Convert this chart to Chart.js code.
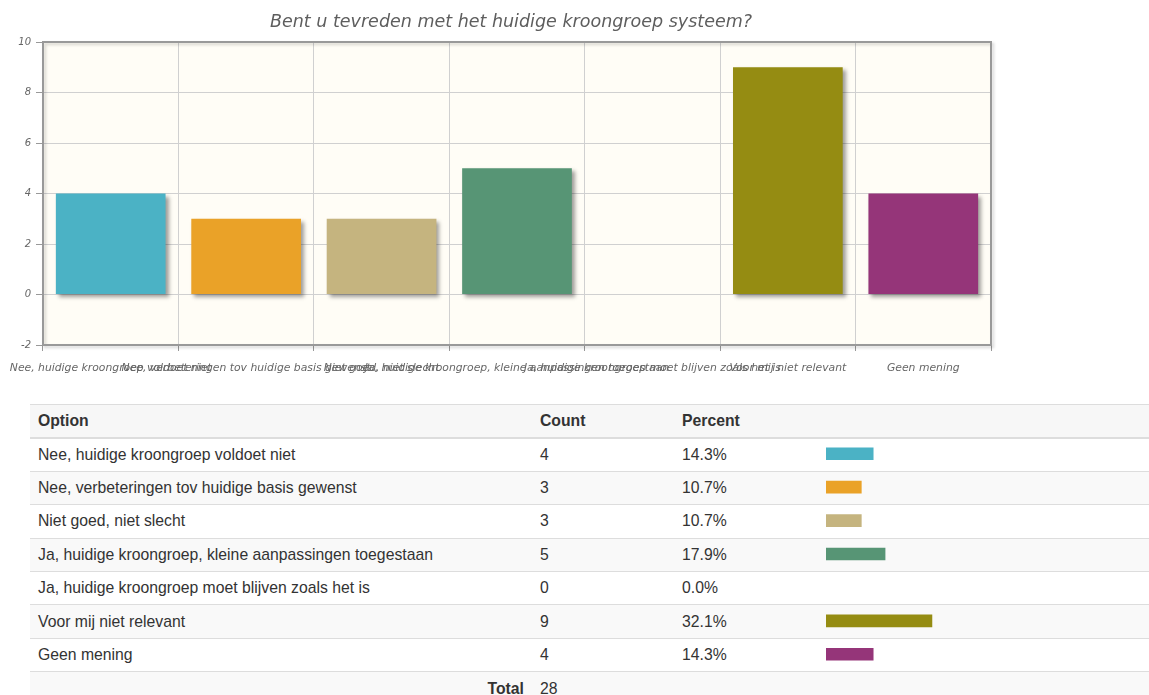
<!DOCTYPE html>
<html>
<head>
<meta charset="utf-8">
<script src="https://cdn.jsdelivr.net/npm/chart.js@4"></script>
<style>
  html, body { margin: 0; padding: 0; background: #fff; overflow: hidden; width: 1149px; height: 695px; }
  #main { position: absolute; left: 0; top: 0; }
  #tbl { position: absolute; left: 30px; top: 404px; width: 1140px; border-collapse: collapse;
         font-family: "Liberation Sans", Arial, sans-serif; font-size: 15.75px; color: #333; table-layout: fixed; }
  #tbl th, #tbl td { text-align: left; padding: 0 8px; border-top: 1px solid #ddd; vertical-align: middle; white-space: nowrap; }
  #tbl tr { height: 33.4px; }
  #tbl thead tr { background: #f7f7f7; }
  #tbl thead th { border-bottom: 2px solid #ddd; font-weight: bold; }
  #tbl tbody tr:nth-child(even) { background: #f9f9f9; }
  #tbl .tot { text-align: right; font-weight: bold; }
  #bars { position: absolute; left: 826px; top: 437px; }
</style>
</head>
<body>
<canvas id="main" width="1149" height="390"></canvas>
<table id="tbl">
  <colgroup><col style="width:502px"><col style="width:142px"><col style="width:144px"><col></colgroup>
  <thead><tr><th>Option</th><th>Count</th><th>Percent</th><th></th></tr></thead>
  <tbody id="tb"></tbody>
</table>
<canvas id="bars" width="330" height="234"></canvas>
<script>
const chartTitle = "Bent u tevreden met het huidige kroongroep systeem?";
const categories = [
  "Nee, huidige kroongroep voldoet niet",
  "Nee, verbeteringen tov huidige basis gewenst",
  "Niet goed, niet slecht",
  "Ja, huidige kroongroep, kleine aanpassingen toegestaan",
  "Ja, huidige kroongroep moet blijven zoals het is",
  "Voor mij niet relevant",
  "Geen mening"
];
const counts = [4, 3, 3, 5, 0, 9, 4];
const percents = [14.3, 10.7, 10.7, 17.9, 0.0, 32.1, 14.3];
const percentLabels = ["14.3%", "10.7%", "10.7%", "17.9%", "0.0%", "32.1%", "14.3%"];
const total = 28;
const colors = ["#4bb2c5", "#eaa228", "#c5b47f", "#579575", "#839557", "#958c12", "#953579"];
const yMin = -2, yMax = 10, yStep = 2;

const canvasFont = "'DejaVu Sans', sans-serif";

const plotDeco = {
  id: 'plotDeco',
  beforeDraw(chart) {
    const a = chart.chartArea, ctx = chart.ctx;
    ctx.save();
    ctx.fillStyle = '#fffdf6';
    ctx.fillRect(a.left, a.top, a.right - a.left, a.bottom - a.top);
    ctx.restore();
  },
  beforeDatasetsDraw(chart) {
    const a = chart.chartArea, ctx = chart.ctx;
    ctx.save();
    ctx.shadowColor = 'rgba(0,0,0,0.18)';
    ctx.shadowOffsetX = 2; ctx.shadowOffsetY = 2; ctx.shadowBlur = 3;
    ctx.strokeStyle = '#999';
    ctx.lineWidth = 2;
    ctx.strokeRect(a.left, a.top, a.right - a.left, a.bottom - a.top);
    ctx.restore();
  },
  beforeDatasetDraw(chart) {
    const ctx = chart.ctx;
    ctx.save();
    ctx.shadowColor = 'rgba(0,0,0,0.38)';
    ctx.shadowOffsetX = 3; ctx.shadowOffsetY = 3; ctx.shadowBlur = 4;
  },
  afterDatasetDraw(chart) { chart.ctx.restore(); },
  afterDraw(chart) {
    const a = chart.chartArea, ctx = chart.ctx;
    ctx.save();
    ctx.font = "italic 17.5px " + canvasFont;
    ctx.fillStyle = '#5e5e5e';
    ctx.textAlign = 'center';
    ctx.textBaseline = 'middle';
    ctx.fillText(chartTitle, (a.left + a.right) / 2 - 6, 22);
    ctx.restore();
  }
};

new Chart(document.getElementById('main'), {
  type: 'bar',
  data: {
    labels: categories,
    datasets: [{ data: counts, backgroundColor: colors, barPercentage: 0.81, categoryPercentage: 1 }]
  },
  options: {
    responsive: false, animation: false, devicePixelRatio: 1,
    layout: { padding: { top: 42, right: 158, bottom: 0, left: 0 } },
    plugins: {
      legend: { display: false }, tooltip: { enabled: false }, title: { display: false }
    },
    scales: {
      x: {
        grid: { color: '#d0d0d0', offset: true, tickLength: 6, tickColor: '#999', lineWidth: 1 },
        border: { display: false },
        ticks: { maxRotation: 0, minRotation: 0, autoSkip: false, color: '#666', padding: 11,
                 font: { family: canvasFont, size: 10.8, style: 'italic' } },
        afterFit(s) { s.height = 45; s.paddingLeft = 0; s.paddingRight = 0; }
      },
      y: {
        min: yMin, max: yMax,
        ticks: { stepSize: yStep, color: '#666', padding: 5,
                 font: { family: canvasFont, size: 10, style: 'italic' } },
        grid: { color: '#d0d0d0', tickLength: 7, tickColor: '#999' },
        border: { display: false },
        afterFit(s) { s.width = 43; }
      }
    }
  },
  plugins: [plotDeco]
});

// table
const tb = document.getElementById('tb');
categories.forEach((c, i) => {
  const tr = document.createElement('tr');
  tr.innerHTML = '<td></td><td></td><td></td><td></td>';
  tr.children[0].textContent = c;
  tr.children[1].textContent = counts[i];
  tr.children[2].textContent = percentLabels[i];
  tb.appendChild(tr);
});
const trT = document.createElement('tr');
trT.innerHTML = '<td class="tot">Total</td><td></td><td></td><td></td>';
trT.children[1].textContent = total;
tb.appendChild(trT);

new Chart(document.getElementById('bars'), {
  type: 'bar',
  data: { labels: categories, datasets: [{ data: percents,
    backgroundColor: (ctx) => ctx.raw > 0 ? colors[ctx.dataIndex] : 'rgba(0,0,0,0)', barThickness: 12 }] },
  options: {
    indexAxis: 'y', responsive: false, animation: false, devicePixelRatio: 1,
    layout: { padding: 0 },
    plugins: { legend: { display: false }, tooltip: { enabled: false }, title: { display: false } },
    scales: { x: { display: false, min: 0, max: 100 }, y: { display: false } }
  }
});
</script>
</body>
</html>
